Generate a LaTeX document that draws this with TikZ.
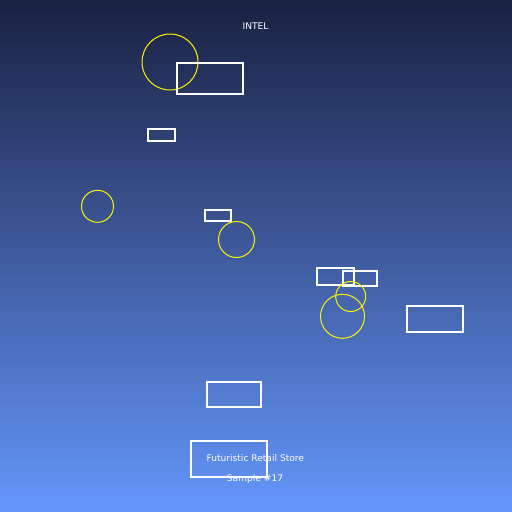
\documentclass[tikz,border=0pt]{standalone}
\usepackage{fontspec}
\setmainfont{DejaVu Sans}
\usetikzlibrary{positioning}
\definecolor{skytop}{HTML}{1A2142}
\definecolor{skybottom}{HTML}{6496FA}
\tikzset{x=1pt,y=-1pt,
    box/.style={
        draw=white,
        line width=2pt},
    ring/.style={
        draw=yellow,
        line width=1pt},
    caption/.style={
        text=white,
        font=\fontsize{9.1}{11}\selectfont,
        inner sep=0pt}}

\begin{document}
\begin{tikzpicture}
        \shade[top color=skytop,bottom color=skybottom] (0,0) rectangle (512,512);
        \useasboundingbox (0,0) rectangle (512,512);

        \node[caption] (title) at (255.5,26.5) {INTEL};

        \draw[ring] (170,62) circle (28);
        \draw[box] (177,63) rectangle (243,94);
        \draw[box] (148,129) rectangle (175,141);

        \draw[ring] (97.5,206.3) circle (16);
        \draw[box] (205,210) rectangle (231,221);
        \draw[ring] (236.5,239.5) circle (18);

        \draw[box] (317,268) rectangle (354,285);
        \draw[box] (343,271) rectangle (377,286);
        \draw[ring] (350.7,296.5) circle (15);
        \draw[ring] (342.5,316.3) circle (22);
        \draw[box] (407,306) rectangle (463,332);

        \draw[box] (207,382) rectangle (261,407);
        \draw[box] (191,441) rectangle (267,477);

        \node[caption] (store) at (255.3,458.5) {Futuristic Retail Store};
        \node[caption] (sample) at (255,478.5) {Sample \#17};
        %\node[caption,below=of store] (sample) {Sample \#17};
    \end{tikzpicture}
\end{document}
